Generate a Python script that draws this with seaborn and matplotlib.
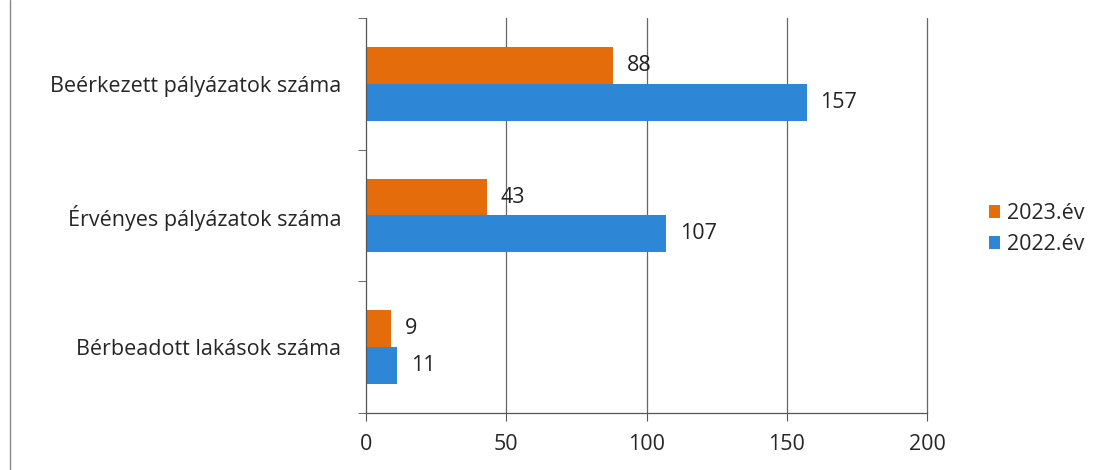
import pandas as pd
import matplotlib
matplotlib.use("Agg")
import matplotlib.pyplot as plt
import seaborn as sns

categories = ["Beérkezett pályázatok száma", "Érvényes pályázatok száma", "Bérbeadott lakások száma"]
years = ["2023.év", "2022.év"]
values_2023 = [88, 43, 9]
values_2022 = [157, 107, 11]
colors = ["#E46C0A", "#2E86D6"]

data = pd.DataFrame({
    "kategoria": categories * 2,
    "ev": [years[0]] * 3 + [years[1]] * 3,
    "ertek": values_2023 + values_2022,
})

sns.set_style("white")
plt.rcParams["font.family"] = ["Open Sans", "DejaVu Sans"]

fig = plt.figure(figsize=(11.13, 4.70), dpi=100)
ax = fig.add_axes([0.329, 0.121, 0.504, 0.841])

sns.barplot(data=data, y="kategoria", x="ertek", hue="ev", hue_order=years,
            order=categories, palette=colors, orient="h", width=0.56,
            saturation=1, linewidth=0, ax=ax, legend=True)

for cont in ax.containers:
    ax.bar_label(cont, padding=10, fontsize=15.5, color="#222222")

ax.set_xlim(0, 200)
ax.set_ylim(2.5, -0.5)
ax.set_xticks([0, 50, 100, 150, 200])
ax.tick_params(axis="x", labelsize=15.5, length=6, color="#555555", pad=9, direction="out", bottom=True)
ax.set_yticks(range(3))
ax.set_yticklabels(categories)
ax.set_yticks([-0.5, 0.5, 1.5, 2.5], minor=True)
ax.tick_params(axis="y", which="major", length=0, labelsize=15.5, pad=18)
ax.tick_params(axis="y", which="minor", length=6, color="#555555", left=True)
ax.set_xlabel("")
ax.set_ylabel("")
ax.grid(False)
for xv in [50, 100, 150, 200]:
    ax.axvline(xv, color="#666666", linewidth=0.9, zorder=0, clip_on=False)
for s in ["top", "right"]:
    ax.spines[s].set_visible(False)
for s in ["left", "bottom"]:
    ax.spines[s].set_color("#555555")
    ax.spines[s].set_linewidth(0.9)

leg = ax.legend(loc="center left", bbox_to_anchor=(1.075, 0.465), frameon=False,
                fontsize=15.5, handlelength=0.55, handleheight=0.55, handletextpad=0.3,
                labelspacing=0.45)

fig.add_artist(plt.Line2D([0.009, 0.009], [0.0, 1.0], color="#888888", linewidth=1))

fig.savefig("out.png", dpi=100)
